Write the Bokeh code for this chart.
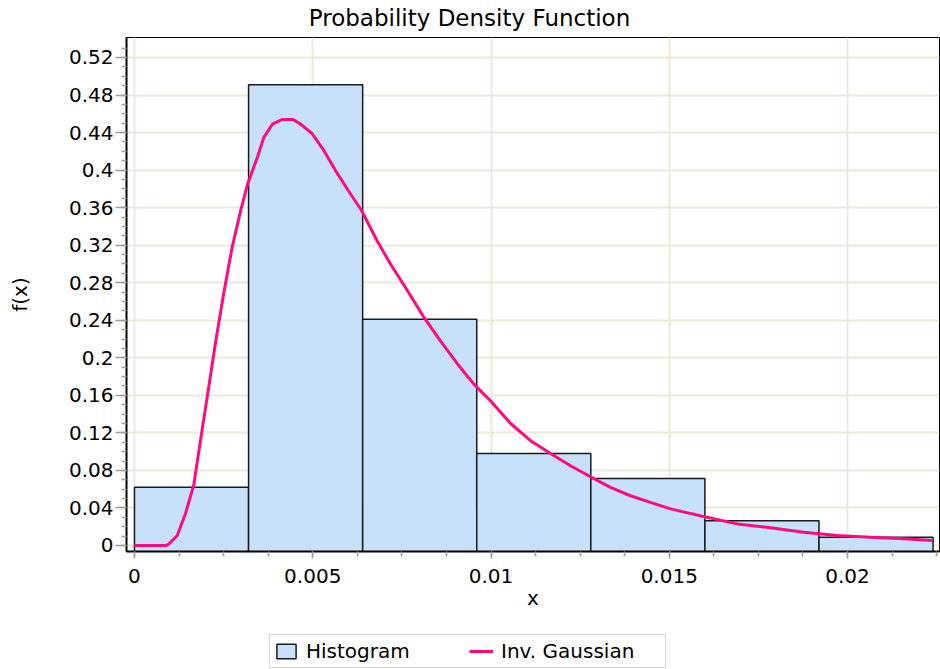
from bokeh.plotting import figure
from bokeh.models import Range1d, FixedTicker, Legend, LegendItem, Label
from bokeh.layouts import column
from bokeh.embed import file_html
from bokeh.resources import INLINE

# ---- data ----
bin_left = [0.0, 0.0032, 0.0064, 0.0096, 0.0128, 0.0160, 0.0192]
bin_right = [0.0032, 0.0064, 0.0096, 0.0128, 0.0160, 0.0192, 0.0224]
bin_height = [0.062, 0.491, 0.241, 0.098, 0.0714, 0.0263, 0.0089]

curve_x = [0.0, 0.0005, 0.00087, 0.00095, 0.0012, 0.00143, 0.00166, 0.0019,
           0.00208, 0.00228, 0.0025, 0.00274, 0.00298, 0.00318, 0.00345,
           0.00363, 0.00387, 0.00415, 0.00445, 0.00466, 0.00498, 0.00531,
           0.00564, 0.006, 0.00637, 0.0068, 0.00718, 0.00765, 0.00812,
           0.00858, 0.00905, 0.00952, 0.00999, 0.01055, 0.0111, 0.01167,
           0.01223, 0.0128, 0.01335, 0.01391, 0.01447, 0.01504, 0.0156,
           0.01606, 0.0169, 0.01784, 0.01877, 0.01971, 0.02065, 0.02158,
           0.02238]
curve_y = [0.0, 0.0, 0.0, 0.001, 0.0107, 0.034, 0.064, 0.124,
           0.168, 0.218, 0.268, 0.318, 0.357, 0.386, 0.414,
           0.435, 0.449, 0.454, 0.454, 0.449, 0.439, 0.421,
           0.3995, 0.378, 0.357, 0.325, 0.300, 0.272, 0.243,
           0.218, 0.194, 0.172, 0.154, 0.130, 0.112, 0.098,
           0.085, 0.073, 0.062, 0.053, 0.046, 0.039, 0.034,
           0.030, 0.023, 0.0189, 0.0142, 0.0107, 0.0088, 0.0071,
           0.0053]

y_ticks = [0, 0.04, 0.08, 0.12, 0.16, 0.2, 0.24, 0.28, 0.32, 0.36, 0.4, 0.44, 0.48, 0.52]
y_tick_labels = ["0", "0.04", "0.08", "0.12", "0.16", "0.2", "0.24", "0.28",
                 "0.32", "0.36", "0.4", "0.44", "0.48", "0.52"]
x_ticks = [0, 0.005, 0.01, 0.015, 0.02]
x_tick_labels = ["0", "0.005", "0.01", "0.015", "0.02"]

title_text = "Probability Density Function"
x_label = "x"
y_label = "f(x)"
series_names = ["Histogram", "Inv. Gaussian"]

# ---- styling ----
FONT = "DejaVu Sans"
GRID = "#ECE9D8"
TICK = "#A39E90"
FILL = "#C8E1FA"
EDGE = "#1A1A1A"
PINK = "#FF0A80"

X0, X1 = -0.000224, 0.02258
Y0, Y1 = -0.0064, 0.5413


def strip(height):
    f = figure(width=940, height=height, x_range=Range1d(0, 1), y_range=Range1d(0, 1),
               output_backend="svg", toolbar_location=None,
               x_axis_type=None, y_axis_type=None,
               min_border_left=0, min_border_right=0, min_border_top=0, min_border_bottom=0)
    f.outline_line_color = None
    f.grid.visible = False
    f.background_fill_color = "white"
    f.border_fill_color = "white"
    return f


# ---- title strip ----
top = strip(36)
top.add_layout(Label(x=343, y=19, x_units="screen", y_units="screen", text=title_text,
                     text_font=FONT, text_font_size="23px", text_color="black",
                     text_align="center", text_baseline="alphabetic"))

# ---- main chart ----
p = figure(width=940, height=588, x_range=Range1d(X0, X1), y_range=Range1d(Y0, Y1),
           output_backend="svg", toolbar_location=None,
           min_border_left=126, min_border_right=1, min_border_top=1,
           min_border_bottom=73)
p.background_fill_color = "white"
p.border_fill_color = "white"
p.outline_line_color = "black"
p.outline_line_width = 1

y_minor = [round(i * 0.01, 4) for i in range(0, 54)]
x_minor = [round(i * 0.00125, 6) for i in range(0, 19)]

yt = FixedTicker(ticks=y_ticks, minor_ticks=y_minor)
xt = FixedTicker(ticks=x_ticks, minor_ticks=x_minor)

p.yaxis.ticker = yt
p.xaxis.ticker = xt
p.yaxis.major_label_overrides = {t: s for t, s in zip(y_ticks, y_tick_labels)}
p.xaxis.major_label_overrides = {t: s for t, s in zip(x_ticks, x_tick_labels)}

for ax in (p.xaxis, p.yaxis):
    ax.axis_line_color = "black"
    ax.axis_line_width = 2
    ax.major_tick_line_color = TICK
    ax.minor_tick_line_color = TICK
    ax.major_tick_line_width = 1.5
    ax.minor_tick_line_width = 1.5
    ax.major_tick_in = 0
    ax.minor_tick_in = 0
    ax.major_label_text_font = FONT
    ax.major_label_text_font_size = "20px"
    ax.major_label_text_color = "black"
    ax.axis_label_text_font = FONT
    ax.axis_label_text_font_size = "20px"
    ax.axis_label_text_font_style = "normal"
    ax.axis_label_text_color = "black"

p.yaxis.major_tick_out = 11
p.yaxis.minor_tick_out = 5
p.yaxis.major_label_standoff = 2
p.yaxis.axis_label = y_label
p.yaxis.axis_label_standoff = 34

p.xaxis.major_tick_out = 7
p.xaxis.minor_tick_out = 5
p.xaxis.major_label_standoff = 10
p.xaxis.axis_label = x_label
p.xaxis.axis_label_standoff = 0

p.xgrid.ticker = xt
p.ygrid.ticker = yt
p.xgrid.grid_line_color = GRID
p.ygrid.grid_line_color = GRID
p.xgrid.grid_line_width = 2
p.ygrid.grid_line_width = 2

bottoms = [Y0 - 0.01] * len(bin_height)
p.quad(left=bin_left, right=bin_right, top=bin_height, bottom=bottoms,
       fill_color=FILL, line_color=EDGE, line_width=1.5)
p.line(curve_x, curve_y, line_color=PINK, line_width=3)

# ---- legend strip underneath (own small figure so it is never clipped) ----
lg = strip(45)
lg.y_range = Range1d(10, 11)   # proxies below are drawn out of view; only their legend swatches show
h_proxy = lg.quad(left=bin_left, right=bin_right, top=bin_height, bottom=[0] * len(bin_height),
                  fill_color=FILL, line_color=EDGE, line_width=1.5)
c_proxy = lg.line(x=curve_x, y=curve_y, line_color=PINK, line_width=3)

legend = Legend(items=[LegendItem(label=series_names[0], renderers=[h_proxy]),
                       LegendItem(label=series_names[1], renderers=[c_proxy])],
                orientation="horizontal", location=(143, 1))
legend.label_text_font = FONT
legend.label_text_font_size = "20px"
legend.label_text_color = "black"
legend.border_line_color = "#B4B4AA"
legend.border_line_width = 1.5
legend.background_fill_color = "white"
legend.background_fill_alpha = 1
legend.padding = 4
legend.margin = 0
legend.glyph_width = 24
legend.glyph_height = 18
legend.label_height = 22
legend.label_standoff = 8
legend.label_width = 160
legend.spacing = 3
lg.add_layout(legend, "center")

layout = column(top, p, lg, spacing=0)
open("out.html", "w").write(file_html(layout, INLINE))
